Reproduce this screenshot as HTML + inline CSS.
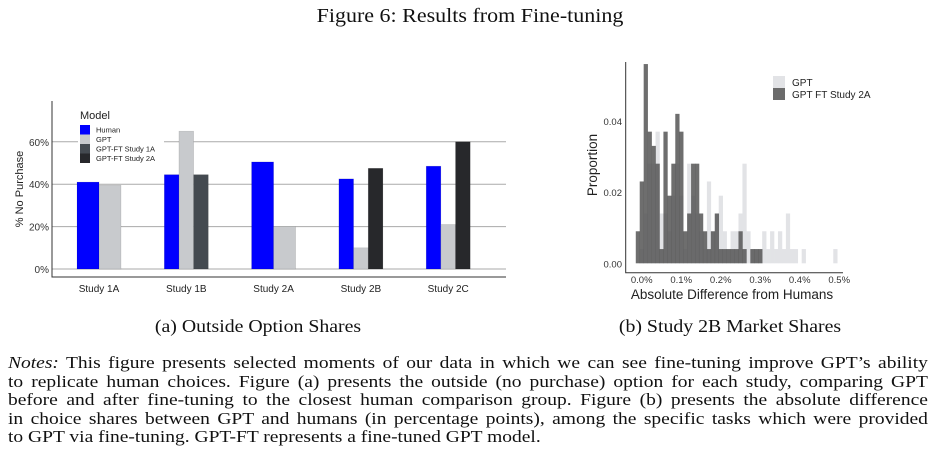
<!DOCTYPE html>
<html><head><meta charset="utf-8">
<style>
body{margin:0;background:#fff;width:940px;height:458px;overflow:hidden;position:relative;font-family:"Liberation Serif",serif;color:#111}
.t{position:absolute;white-space:nowrap}
.ln{position:absolute;left:8px;width:802px;font-size:17px;text-align:justify;text-align-last:justify;white-space:nowrap;line-height:18px;transform:scaleX(1.147);transform-origin:0 0}
</style></head><body>
<div class="t" style="left:0;width:940px;text-align:center;top:5px;font-size:20px;transform:scaleX(1.1);transform-origin:470px 0">Figure 6: Results from Fine-tuning</div>
<svg id="c1" width="520" height="300" style="position:absolute;left:0;top:0"></svg>
<svg id="c2" width="340" height="310" style="position:absolute;left:580px;top:0"></svg>
<div class="t" style="left:120px;width:276px;text-align:center;top:316px;font-size:18px;transform:scaleX(1.1)">(a) Outside Option Shares</div>
<div class="t" style="left:590px;width:280px;text-align:center;top:316px;font-size:18px;transform:scaleX(1.1)">(b) Study 2B Market Shares</div>
<div>
<div class="ln" style="top:354px"><i>Notes:</i> This figure presents selected moments of our data in which we can see fine-tuning improve GPT’s ability</div>
<div class="ln" style="top:372.5px">to replicate human choices. Figure (a) presents the outside (no purchase) option for each study, comparing GPT</div>
<div class="ln" style="top:391px">before and after fine-tuning to the closest human comparison group. Figure (b) presents the absolute difference</div>
<div class="ln" style="top:409.5px">in choice shares between GPT and humans (in percentage points), among the specific tasks which were provided</div>
<div class="ln" style="top:428px;text-align-last:left">to GPT via fine-tuning. GPT-FT represents a fine-tuned GPT model.</div>
</div>
<script>
const NS="http://www.w3.org/2000/svg";
function mk(p,tag,a,txt){const e=document.createElementNS(NS,tag);for(const k in a)e.setAttribute(k,a[k]);if(txt!==undefined)e.textContent=txt;p.appendChild(e);return e;}
// ---- Chart A data
const studies=["Study 1A","Study 1B","Study 2A","Study 2B","Study 2C"];
const human=[41,44.5,50.5,42.5,48.5];
const gpt=[39.5,65,20,10,21];
const ft1a=[null,44.5,null,null,null];
const ft2a=[null,null,null,47.5,60];
const yTicksA=[0,20,40,60];
const seriesNames=["Human","GPT","GPT-FT Study 1A","GPT-FT Study 2A"];
const seriesColors=["#0000ff","#c8cacd","#444a50","#27282b"];
(function(){
const s=document.getElementById('c1');
const y=v=>269-v*2.12, x=i=>99+i*87.3;
yTicksA.forEach(t=>{
 const g=mk(s,'line',{x1:52,x2:506,y1:y(t),y2:y(t),stroke:'#aaa','stroke-width':1});
 
 
 const l=mk(s,'text',{x:49,y:y(t)+4,'text-anchor':'end','font-size':10,'font-family':'Liberation Sans, sans-serif',fill:'#333'},t+'%');
 
 
});
const all=[human,gpt,ft1a,ft2a];
studies.forEach((st,i)=>{
 const present=all.map((a,k)=>a[i]!=null?k:-1).filter(k=>k>=0);
 const w=44/present.length;
 present.forEach((k,j)=>{
  const v=all[k][i];
  const r=mk(s,'rect',{x:x(i)-22+j*w,y:y(v),width:w,height:y(0)-y(v),fill:seriesColors[k],stroke:'rgba(0,0,0,0.15)','stroke-width':0.6});
  
  
 });
 const l=mk(s,'text',{x:x(i),y:292,'text-anchor':'middle','font-size':10,'font-family':'Liberation Sans, sans-serif',fill:'#222'},st);
 
 
});
const ax=mk(s,'path',{d:'M52,101V277H506',fill:'none',stroke:'#333','stroke-width':1});


const yt=mk(s,'text',{transform:'translate(23,189) rotate(-90)','text-anchor':'middle','font-size':11,'font-family':'Liberation Sans, sans-serif',fill:'#222'},'% No Purchase');


mk(s,'rect',{x:78,y:106,width:86,height:62,fill:'#fff'});
const lt=mk(s,'text',{x:80,y:119,'font-size':11,'font-family':'Liberation Sans, sans-serif',fill:'#222'},'Model');


seriesNames.forEach((n,k)=>{
 const r=mk(s,'rect',{x:80,y:125+k*9.5,width:10,height:9.5,fill:seriesColors[k]});
 
 
 const t=mk(s,'text',{x:96,y:132.5+k*9.5,'font-size':7.5,'font-family':'Liberation Sans, sans-serif',fill:'#222'},n);
 
 
});
})();
// ---- Chart B data (bin centers in %, proportions)
const binCenters=[-0.01,0,0.01,0.02,0.03,0.04,0.05,0.06,0.07,0.08,0.09,0.10,0.11,0.12,0.13,0.14,0.15,0.16,0.17,0.18,0.19,0.20,0.21,0.22,0.23,0.24,0.25,0.26,0.27,0.28,0.29,0.30,0.31,0.32,0.33,0.34,0.35,0.36,0.37,0.38,0.39,0.40,0.41,0.42,0.43,0.44,0.45,0.46,0.47,0.48,0.49];
const gptProp=[0,0.004,0.014,0.028,0.028,0.037,0.014,0.014,0.009,0.019,0.028,0.019,0.004,0.028,0.019,0.014,0.009,0.004,0.023,0.009,0.014,0.019,0.009,0.004,0.009,0.009,0.014,0.028,0.009,0.004,0.004,0.004,0.009,0.004,0.009,0.004,0.009,0.004,0.014,0.004,0.004,0,0.004,0,0,0,0,0,0,0,0.004];
const ftProp=[0.009,0.023,0.056,0.037,0.033,0.028,0.004,0.037,0.019,0.028,0.042,0.037,0.009,0.014,0.028,0.028,0.014,0.009,0.004,0.009,0.014,0.004,0.004,0.004,0.004,0.004,0.009,0.004,0,0.004,0.004,0.004,0,0,0,0,0,0,0,0,0,0,0,0,0,0,0,0,0,0,0];
const xTicksB=[0,0.1,0.2,0.3,0.4,0.5];
const yTicksB=[0,0.02,0.04];
(function(){
const s=document.getElementById('c2');
const x=v=>61.7+v*395, y=v=>263.3-v*3558;
const bw=0.01*395;
[[gptProp,'#e2e3e6','gpt'],[ftProp,'rgba(85,85,85,0.85)','gpt-ft']].forEach(([arr,c,nm])=>{
 arr.forEach((v,i)=>{ if(!v)return;
  const r=mk(s,'rect',{x:x(binCenters[i])-bw/2,y:y(v),width:bw+0.3,height:y(0)-y(v),fill:c});
  
  
 });
});
const ax=mk(s,'path',{d:'M45.7,62V272.7H263',fill:'none',stroke:'#333','stroke-width':1});


yTicksB.forEach(t=>{
 const l=mk(s,'text',{x:42,y:y(t)+4,'text-anchor':'end','font-size':9.5,'font-family':'Liberation Sans, sans-serif',fill:'#333'},t.toFixed(2));
 
 
});
xTicksB.forEach(t=>{
 const l=mk(s,'text',{x:x(t),y:283,'text-anchor':'middle','font-size':9.5,'font-family':'Liberation Sans, sans-serif',fill:'#333'},t.toFixed(1)+'%');
 
 
});
const xt=mk(s,'text',{x:152,y:299,'text-anchor':'middle','font-size':13.5,'font-family':'Liberation Sans, sans-serif',fill:'#222'},'Absolute Difference from Humans');


const yt=mk(s,'text',{transform:'translate(17,165) rotate(-90)','text-anchor':'middle','font-size':13.5,'font-family':'Liberation Sans, sans-serif',fill:'#222'},'Proportion');


[['GPT','#e2e3e6'],['GPT FT Study 2A','#6b6b6b']].forEach(([n,c],k)=>{
 const r=mk(s,'rect',{x:193,y:76+k*12,width:12,height:12,fill:c});
 
 
 const t=mk(s,'text',{x:212,y:86+k*12,'font-size':10,'font-family':'Liberation Sans, sans-serif',fill:'#222'},n);
 
 
});
})();
</script>
</body></html>
